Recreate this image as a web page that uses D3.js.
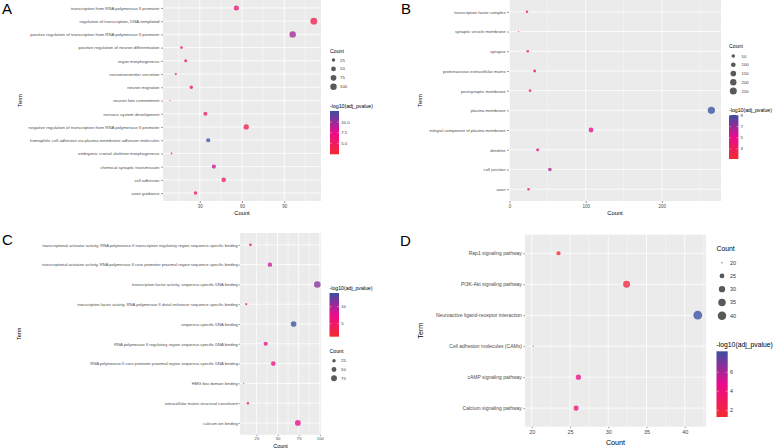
<!DOCTYPE html>
<html>
<head>
<meta charset="utf-8">
<script src="https://cdn.jsdelivr.net/npm/d3@7"></script>
<style>
  html, body { margin: 0; padding: 0; background: #fff; }
  svg { display: block; }
</style>
</head>
<body>
<svg id="chart" width="777" height="448"></svg>
<script>
// ---------------- DATA ----------------
const termsA = [
  "transcription from RNA polymerase II promoter",
  "regulation of transcription, DNA-templated",
  "positive regulation of transcription from RNA polymerase II promoter",
  "positive regulation of neuron differentiation",
  "organ morphogenesis",
  "neurotransmitter secretion",
  "neuron migration",
  "neuron fate commitment",
  "nervous system development",
  "negative regulation of transcription from RNA polymerase II promoter",
  "homophilic cell adhesion via plasma membrane adhesion molecules",
  "embryonic cranial skeleton morphogenesis",
  "chemical synaptic transmission",
  "cell adhesion",
  "axon guidance"
];
const countsA = [56, 111, 96, 17, 20, 13, 24, 9, 34, 63, 36, 10, 40, 47, 27];
const pvalsA  = [6.0, 4.2, 9.6, 4.6, 5.6, 3.6, 5.4, 2.4, 4.6, 4.1, 12.6, 4.0, 8.6, 4.3, 5.2];
const xTicksA = [30, 60, 90];
const sizeBreaksA = [25, 50, 75, 100];
const colorBreaksA = [10.0, 7.5, 5.0];

const termsB = [
  "transcription factor complex",
  "synaptic vesicle membrane",
  "synapse",
  "proteinaceous extracellular matrix",
  "postsynaptic membrane",
  "plasma membrane",
  "integral component of plasma membrane",
  "dendrite",
  "cell junction",
  "axon"
];
const countsB = [23, 12, 24, 33, 27, 265, 107, 37, 53, 25];
const pvalsB  = [3.0, 1.2, 3.6, 4.2, 3.4, 9.1, 5.2, 4.6, 6.6, 2.6];
const xTicksB = [0, 100, 200];
const sizeBreaksB = [50, 100, 150, 200, 250];
const colorBreaksB = [9, 7, 5, 3];

const termsC = [
  "transcriptional activator activity, RNA polymerase II transcription regulatory region sequence-specific binding",
  "transcriptional activator activity, RNA polymerase II core promoter proximal region sequence-specific binding",
  "transcription factor activity, sequence-specific DNA binding",
  "transcription factor activity, RNA polymerase II distal enhancer sequence-specific binding",
  "sequence-specific DNA binding",
  "RNA polymerase II regulatory region sequence-specific DNA binding",
  "RNA polymerase II core promoter proximal region sequence-specific DNA binding",
  "HMG box domain binding",
  "extracellular matrix structural constituent",
  "calcium ion binding"
];
const countsC = [18, 41, 97, 13, 69, 36, 45, 10, 15, 74];
const pvalsC  = [4.2, 8.8, 11.2, 1.2, 14.0, 7.4, 7.0, 4.0, 5.0, 7.6];
const xTicksC = [25, 50, 75, 100];
const sizeBreaksC = [25, 50, 75];
const colorBreaksC = [10, 5];

const termsD = [
  "Rap1 signaling pathway",
  "PI3K-Akt signaling pathway",
  "Neuroactive ligand-receptor interaction",
  "Cell adhesion molecules (CAMs)",
  "cAMP signaling pathway",
  "Calcium signaling pathway"
];
const countsD = [23.5, 32.4, 41.7, 20.2, 26.1, 25.8];
const pvalsD  = [1.3, 1.9, 8.2, 3.0, 4.3, 4.2];
const xTicksD = [20, 25, 30, 35, 40];
const sizeBreaksD = [20, 25, 30, 35, 40];
const colorBreaksD = [6, 4, 2];

// ---------------- STYLE / LAYOUT ----------------
const FONT = "'Liberation Sans', Arial, Helvetica, sans-serif";
const gradStops = ["#F32A30", "#EC0A8C", "#3A4FA3"];

const panels = [
  { letter: "A", lx: 2, ly: 14, terms: termsA, counts: countsA, pvals: pvalsA,
    xTicks: xTicksA, sizeBreaks: sizeBreaksA, colorBreaks: colorBreaksA, cfmt: ".1f",
    left: 163, right: 321, top: 0, bottom: 201, rMin: 0.6, rMax: 3.4,
    yFont: 4.3, xFont: 4.5, titleFont: 5.8, termX: 20, countY: 214.8,
    tick: 2, pad: 1.5,
    leg: { x: 330, sTitleY: 52.5, sKeyY: 60, sStep: 8.9, cTitleY: 107.5,
           barTop: 111, barBot: 154.3, barW: 9, tFont: 5.2, lFont: 4.3, cx: 333.5, tx: 340 } },
  { letter: "B", lx: 401, ly: 14, terms: termsB, counts: countsB, pvals: pvalsB,
    xTicks: xTicksB, sizeBreaks: sizeBreaksB, colorBreaks: colorBreaksB, cfmt: "d",
    left: 509, right: 721, top: 0, bottom: 201, rMin: 0.6, rMax: 3.6,
    yFont: 4.2, xFont: 4.5, titleFont: 5.8, termX: 419.5, countY: 214.8,
    tick: 2, pad: 1.5,
    leg: { x: 729, sTitleY: 48, sKeyY: 56, sStep: 8.75, cTitleY: 112,
           barTop: 115, barBot: 159, barW: 9.4, tFont: 5.2, lFont: 4.3, cx: 733.3, tx: 741.5 } },
  { letter: "C", lx: 2, ly: 245, terms: termsC, counts: countsC, pvals: pvalsC,
    xTicks: xTicksC, sizeBreaks: sizeBreaksC, colorBreaks: colorBreaksC, cfmt: "d",
    left: 240, right: 321, top: 233, bottom: 434.8, rMin: 0.6, rMax: 3.3,
    yFont: 4.1, xFont: 4.2, titleFont: 5.5, termX: 19, countY: 447.6,
    tick: 1.3, pad: 0.8,
    leg: { x: 329.5, sTitleY: 353, sKeyY: 360.7, sStep: 8.8, cTitleY: 290.2,
           barTop: 293, barBot: 336.7, barW: 9.5, tFont: 5.2, lFont: 4.3, cx: 334, tx: 341 } },
  { letter: "D", lx: 400, ly: 246, terms: termsD, counts: countsD, pvals: pvalsD,
    xTicks: xTicksD, sizeBreaks: sizeBreaksD, colorBreaks: colorBreaksD, cfmt: "d",
    left: 525, right: 706, top: 234.7, bottom: 426.7, rMin: 0.6, rMax: 4.4,
    yFont: 5.0, xFont: 5.5, titleFont: 7.2, termX: 420, countY: 444.8,
    tick: 1.6, pad: 1.6,
    leg: { x: 716.5, sTitleY: 251.3, sKeyY: 262.7, sStep: 13.25, cTitleY: 347.4,
           barTop: 351.3, barBot: 417, barW: 11.2, tFont: 6.8, lFont: 5.4, cx: 722, tx: 730 } }
];

const svg = d3.select("#chart");
const defs = svg.append("defs");

function colorScaleFor(ext) {
  return d3.scaleLinear()
    .domain([ext[0], (ext[0] + ext[1]) / 2, ext[1]])
    .range(gradStops)
    .interpolate(d3.interpolateRgb);
}

panels.forEach((p, pi) => {
  const g = svg.append("g");
  const cExt = d3.extent(p.pvals);
  const nExt = d3.extent(p.counts);
  const span = nExt[1] - nExt[0];
  const x = d3.scaleLinear().domain([nExt[0] - 0.05 * span, nExt[1] + 0.05 * span]).range([p.left, p.right]);
  const y = d3.scalePoint().domain(p.terms).range([p.top, p.bottom]).padding(0.6);
  const color = colorScaleFor(cExt);
  const size = v => {
    const t = Math.max(0, Math.min(1, (v - nExt[0]) / (nExt[1] - nExt[0])));
    return p.rMin + (p.rMax - p.rMin) * Math.sqrt(t);
  };

  // panel background
  g.append("rect").attr("x", p.left).attr("y", p.top)
    .attr("width", p.right - p.left).attr("height", p.bottom - p.top)
    .attr("fill", "#EBEBEB");

  // minor grid
  const step = p.xTicks[1] - p.xTicks[0];
  const dom = x.domain();
  const minors = [];
  for (let v = p.xTicks[0] - step / 2; v <= dom[1]; v += step) {
    if (v >= dom[0]) minors.push(v);
  }
  g.selectAll(".minor").data(minors).join("line")
    .attr("x1", d => x(d)).attr("x2", d => x(d))
    .attr("y1", p.top).attr("y2", p.bottom)
    .attr("stroke", "#fff").attr("stroke-width", 0.4);
  // major grid
  g.selectAll(".majx").data(p.xTicks).join("line")
    .attr("x1", d => x(d)).attr("x2", d => x(d))
    .attr("y1", p.top).attr("y2", p.bottom)
    .attr("stroke", "#fff").attr("stroke-width", 0.8);
  g.selectAll(".majy").data(p.terms).join("line")
    .attr("x1", p.left).attr("x2", p.right)
    .attr("y1", d => y(d)).attr("y2", d => y(d))
    .attr("stroke", "#fff").attr("stroke-width", 0.8);

  // axes
  const ay = g.append("g").attr("transform", `translate(${p.left},0)`)
    .call(d3.axisLeft(y).tickSize(p.tick).tickPadding(p.pad));
  const ax = g.append("g").attr("transform", `translate(0,${p.bottom})`)
    .call(d3.axisBottom(x).tickValues(p.xTicks).tickSize(p.tick).tickPadding(p.pad).tickFormat(d3.format("d")));
  [ay, ax].forEach(a => {
    a.select(".domain").remove();
    a.selectAll(".tick line").attr("stroke", "#333").attr("stroke-width", 0.5);
    a.selectAll(".tick text").attr("fill", "#4D4D4D").attr("font-family", FONT);
  });
  ay.selectAll(".tick text").attr("font-size", p.yFont);
  ax.selectAll(".tick text").attr("font-size", p.xFont);

  // points
  const pts = p.terms.map((t, i) => ({ term: t, count: p.counts[i], pv: p.pvals[i] }));
  g.selectAll(".pt").data(pts).join("circle")
    .attr("cx", d => x(d.count)).attr("cy", d => y(d.term))
    .attr("r", d => size(d.count))
    .attr("fill", d => color(d.pv)).attr("fill-opacity", 0.78);

  // axis titles
  g.append("text").attr("x", (p.left + p.right) / 2).attr("y", p.countY)
    .attr("text-anchor", "middle").attr("font-family", FONT).attr("font-size", p.titleFont)
    .attr("fill", "#000").text("Count");
  g.append("text")
    .attr("transform", `translate(${p.termX},${(p.top + p.bottom) / 2}) rotate(-90)`)
    .attr("text-anchor", "middle").attr("dy", "0.35em")
    .attr("font-family", FONT).attr("font-size", p.titleFont).attr("fill", "#000").text("Term");

  // panel letter
  svg.append("text").attr("x", p.lx).attr("y", p.ly)
    .attr("font-family", FONT).attr("font-size", 15).attr("fill", "#000").text(p.letter);

  // size legend
  const L = p.leg;
  g.append("text").attr("x", L.x).attr("y", L.sTitleY)
    .attr("font-family", FONT).attr("font-size", L.tFont).attr("fill", "#000").text("Count");
  p.sizeBreaks.forEach((b, i) => {
    const cy = L.sKeyY + i * L.sStep;
    g.append("circle").attr("cx", L.cx).attr("cy", cy).attr("r", size(b)).attr("fill", "#595959");
    g.append("text").attr("x", L.tx).attr("y", cy).attr("dy", "0.35em")
      .attr("font-family", FONT).attr("font-size", L.lFont).attr("fill", "#333").text(b);
  });

  // colour legend
  const gid = "grad" + pi;
  const grad = defs.append("linearGradient").attr("id", gid)
    .attr("x1", 0).attr("y1", 1).attr("x2", 0).attr("y2", 0);
  d3.range(0, 1.0001, 0.1).forEach(t => {
    grad.append("stop").attr("offset", t)
      .attr("stop-color", color(cExt[0] + t * (cExt[1] - cExt[0])));
  });
  g.append("text").attr("x", L.x).attr("y", L.cTitleY)
    .attr("font-family", FONT).attr("font-size", L.tFont).attr("fill", "#000").text("-log10(adj_pvalue)");
  g.append("rect").attr("x", L.x).attr("y", L.barTop).attr("width", L.barW)
    .attr("height", L.barBot - L.barTop).attr("fill", `url(#${gid})`);
  const cb = d3.scaleLinear().domain(cExt).range([L.barBot, L.barTop]);
  p.colorBreaks.forEach(b => {
    g.append("line").attr("x1", L.x).attr("x2", L.x + L.barW * 0.2)
      .attr("y1", cb(b)).attr("y2", cb(b)).attr("stroke", "#fff").attr("stroke-width", 0.4);
    g.append("line").attr("x1", L.x + L.barW * 0.8).attr("x2", L.x + L.barW)
      .attr("y1", cb(b)).attr("y2", cb(b)).attr("stroke", "#fff").attr("stroke-width", 0.4);
    g.append("text").attr("x", L.x + L.barW + 2.2).attr("y", cb(b)).attr("dy", "0.35em")
      .attr("font-family", FONT).attr("font-size", L.lFont).attr("fill", "#333")
      .text(d3.format(p.cfmt)(b));
  });
});
</script>
</body>
</html>
